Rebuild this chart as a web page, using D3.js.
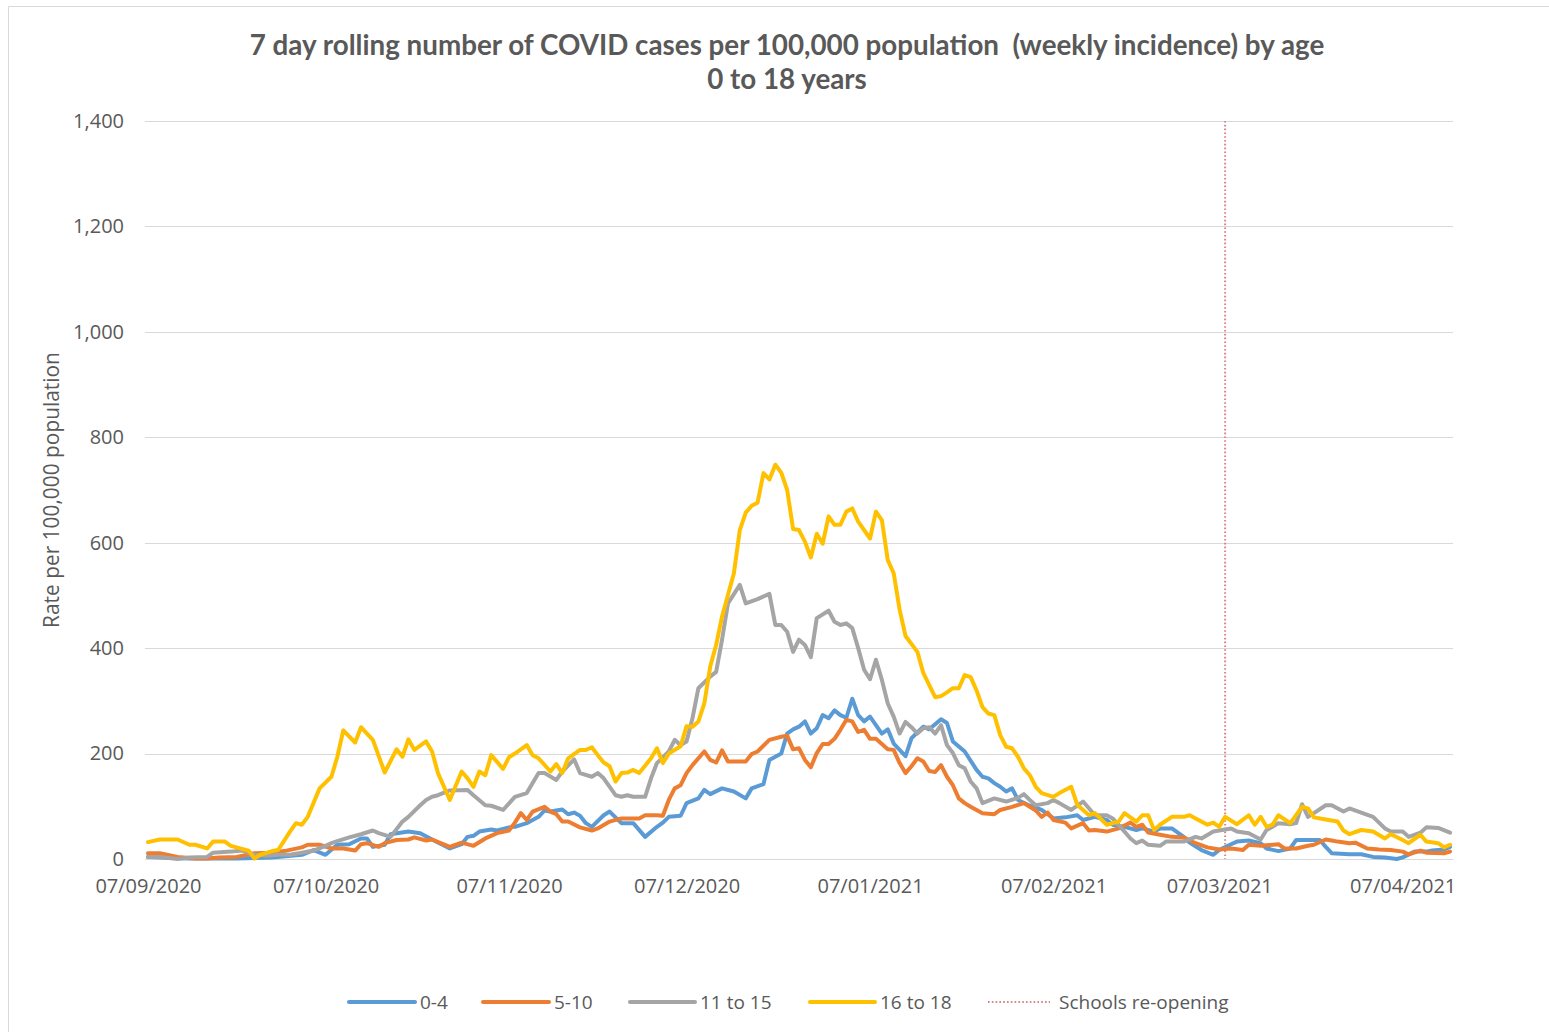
<!DOCTYPE html>
<html>
<head>
<meta charset="utf-8">
<script src="https://cdn.jsdelivr.net/npm/d3@7"></script>
<style>
  html, body { margin: 0; padding: 0; background: #ffffff; }
  svg { display: block; }
</style>
</head>
<body>
<svg id="chart" width="1549" height="1032"></svg>
<script>
// ---------------- DATA ----------------
const startDate = "2020-09-07";
const endDayOffset = 220;
const schoolsReopening = "2021-03-08";

const xTickLabels = ["07/09/2020","07/10/2020","07/11/2020","07/12/2020","07/01/2021","07/02/2021","07/03/2021","07/04/2021"];
const yTickValues = [0, 200, 400, 600, 800, 1000, 1200, 1400];

const seriesNames = ["0-4", "5-10", "11 to 15", "16 to 18"];

// days since 07/09/2020, and weekly incidence per 100,000
const days_0_4 = [0,7,15,21,26,28,30,32,34,36,37,38,40,41,44,46,48,51,53,54,55,56,58,59,61,62,64,66,67,68,70,71,72,73,74,75,77,78,80,82,84,86,87,88,90,91,93,94,95,97,99,101,102,104,105,107,108,109,110,111,112,113,114,115,116,117,118,119,120,121,122,124,125,126,128,129,131,132,134,135,136,138,140,141,142,143,144,145,146,147,149,151,153,155,157,158,160,162,163,165,167,168,170,171,173,175,176,178,180,181,183,184,186,188,189,191,193,194,196,198,199,200,203,205,207,209,211,212,214,216,217,219,220];
const values_0_4 = [4,1,1,3,8,17,8,27,28,39,39,23,27,47,52,49,37,20,28,42,44,52,56,54,60,61,68,80,92,90,94,85,88,82,68,61,83,90,68,68,42,61,69,80,82,106,115,131,123,134,128,115,134,142,188,200,238,246,251,261,238,248,273,267,282,273,268,304,273,261,270,238,246,219,195,229,251,246,265,258,223,204,169,156,153,144,137,128,134,112,101,93,77,79,83,74,80,74,65,61,55,58,52,58,58,42,31,17,8,17,28,33,35,30,20,15,20,36,36,36,23,11,9,9,4,3,0,3,14,14,16,18,23];

const days_5_10 = [0,2,5,8,10,12,15,18,21,23,26,27,29,31,33,35,36,37,39,40,42,44,45,47,48,51,53,55,57,59,61,62,63,64,65,67,68,69,70,71,73,75,76,78,80,83,84,86,87,88,89,90,91,92,94,95,96,97,98,101,102,103,105,107,108,109,110,111,112,113,114,115,116,117,118,119,120,121,122,123,124,125,126,127,128,129,130,131,132,133,134,135,136,137,138,139,141,143,144,146,148,150,151,152,153,155,156,158,159,160,162,164,166,167,168,169,171,173,175,177,179,181,183,185,186,188,191,192,194,196,197,199,200,201,203,204,206,208,210,212,213,215,216,219,220];
const values_5_10 = [11,11,4,1,1,3,4,11,12,15,22,27,27,20,20,16,28,30,23,30,36,37,41,35,37,23,31,25,39,49,54,69,87,74,90,99,90,85,71,71,60,54,58,71,77,77,83,83,82,112,134,140,163,178,204,188,183,206,185,185,199,204,226,232,234,208,210,188,174,201,218,218,228,245,264,261,241,245,228,228,218,208,207,182,163,176,191,185,167,165,178,156,140,115,106,99,87,85,93,99,106,92,80,88,74,69,58,68,54,55,52,58,69,61,65,50,46,42,41,30,22,18,20,17,27,25,28,20,20,25,27,37,35,33,30,31,20,18,17,14,9,16,12,11,14];

const days_11_15 = [0,2,5,7,10,11,14,16,18,20,22,24,26,28,30,31,32,34,36,38,39,41,43,44,46,47,48,49,51,54,55,57,58,60,62,64,66,67,69,70,72,73,75,76,77,79,80,81,82,84,85,86,88,89,90,91,92,93,95,96,97,98,100,101,103,105,106,107,108,109,110,111,112,113,115,116,117,118,119,120,121,122,123,124,125,126,127,128,129,130,131,132,133,134,135,136,137,138,139,140,141,143,145,147,148,149,150,152,153,154,156,158,160,162,163,165,166,167,168,169,171,172,175,177,178,180,183,184,186,188,189,190,191,193,194,195,196,197,199,200,202,203,205,207,209,210,212,213,215,216,218,220];
const values_11_15 = [4,4,0,3,4,12,14,16,8,6,8,8,12,16,25,30,34,41,47,54,49,42,71,80,102,112,118,121,130,131,121,102,101,93,118,125,163,163,150,166,189,163,156,163,153,121,118,121,118,118,153,182,204,226,216,223,267,324,346,355,416,485,520,485,493,503,444,444,431,393,416,406,383,457,471,450,444,447,438,400,359,341,378,340,295,270,238,260,250,238,248,250,238,254,216,201,178,172,147,134,106,115,109,116,123,112,102,106,112,106,93,109,83,83,77,52,39,30,35,27,25,33,33,42,39,52,58,52,49,37,55,61,68,66,68,104,80,87,102,102,90,96,88,80,58,52,52,42,50,60,59,50];

const days_16_18 = [0,2,5,7,8,10,11,13,14,17,18,19,21,22,24,25,26,27,29,31,32,33,35,36,37,38,40,42,43,44,45,47,48,49,51,53,54,55,56,57,58,60,61,62,64,65,66,68,69,70,71,73,74,75,76,77,78,79,80,81,82,83,85,86,87,88,90,91,92,93,94,95,96,97,99,100,101,102,103,104,105,106,107,108,109,110,111,112,113,114,115,116,117,118,119,120,122,123,124,125,126,127,128,130,131,133,134,135,136,137,138,139,140,141,142,143,144,145,146,147,148,149,150,151,153,154,156,157,159,160,162,164,165,167,168,169,170,171,173,175,176,179,180,181,182,184,186,187,188,189,190,191,193,195,196,197,199,201,202,203,205,207,209,210,212,213,215,216,218,219,220];
const values_16_18 = [32,37,37,27,27,20,33,33,25,16,1,8,15,17,52,68,65,80,134,156,194,244,221,250,238,226,164,208,194,227,207,223,204,163,112,166,153,137,166,159,197,171,193,200,216,197,191,166,180,163,191,207,207,212,197,183,176,147,163,164,169,163,191,210,182,200,214,252,251,261,295,365,406,460,542,624,657,670,676,732,720,748,733,700,626,624,602,572,617,598,650,634,634,659,665,640,608,659,643,567,542,473,423,393,353,307,309,316,324,324,349,345,320,288,276,273,235,213,210,194,172,159,137,125,118,125,137,103,83,87,65,71,87,71,83,83,55,65,80,80,83,65,69,61,80,66,83,65,80,61,65,83,68,99,96,79,75,71,54,47,55,52,39,47,36,30,46,33,30,22,27];

const seriesColors = ["#5B9BD5", "#ED7D31", "#A5A5A5", "#FFC000"];

// ---------------- LAYOUT ----------------
const svg = d3.select("#chart");
const plot = { left: 145, right: 1453, top: 121, bottom: 859 };
const textColor = "#595959";
const labelFont = "'Open Sans', 'Segoe UI', 'DejaVu Sans', sans-serif";

const parseISO = d3.utcParse("%Y-%m-%d");
const parseTick = d3.utcParse("%d/%m/%Y");
const start = parseISO(startDate);
const dayDate = d => d3.utcDay.offset(start, d);

const x = d3.scaleUtc()
  .domain([d3.utcHour.offset(start, -12), d3.utcHour.offset(dayDate(endDayOffset), 12)])
  .range([plot.left, plot.right]);
const y = d3.scaleLinear().domain([0, 1400]).range([plot.bottom, plot.top]);

// outer chart border (left & top visible)
svg.append("line").attr("x1", 8.5).attr("x2", 8.5).attr("y1", 6.5).attr("y2", 1032)
  .attr("stroke", "#d9d9d9").attr("stroke-width", 1);
svg.append("line").attr("x1", 8.5).attr("x2", 1549).attr("y1", 6.5).attr("y2", 6.5)
  .attr("stroke", "#d9d9d9").attr("stroke-width", 1);

// gridlines
const yAxisGrid = d3.axisLeft(y).tickValues(yTickValues)
  .tickSize(-(plot.right - plot.left)).tickFormat("");
const gGrid = svg.append("g").attr("transform", `translate(${plot.left},0)`).call(yAxisGrid);
gGrid.select(".domain").remove();
gGrid.selectAll(".tick line").attr("stroke", "#d9d9d9").attr("stroke-width", 1)
  .attr("shape-rendering", "crispEdges");

// y tick labels
const yAxis = d3.axisLeft(y).tickValues(yTickValues).tickSize(0).tickPadding(21)
  .tickFormat(d3.format(","));
const gY = svg.append("g").attr("transform", `translate(${plot.left},0)`).call(yAxis);
gY.select(".domain").remove();
gY.selectAll("text").attr("fill", textColor).attr("font-family", labelFont)
  .attr("font-size", 20);

// x axis
const xTickDates = xTickLabels.map(s => parseTick(s));
const xAxis = d3.axisBottom(x).tickValues(xTickDates).tickSize(0).tickPadding(20)
  .tickFormat((d, i) => xTickLabels[i]);
const gX = svg.append("g").attr("transform", `translate(0,${plot.bottom})`).call(xAxis);
gX.select(".domain").attr("stroke", "#d9d9d9").attr("stroke-width", 1);
gX.selectAll("text").attr("fill", textColor).attr("font-family", labelFont)
  .attr("font-size", 20);

// schools re-opening line
const sx = x(parseISO(schoolsReopening));
svg.append("line").attr("x1", sx).attr("x2", sx).attr("y1", plot.top).attr("y2", plot.bottom)
  .attr("stroke", "#DB8385").attr("stroke-width", 2).attr("stroke-dasharray", "1.6,2.2");

// series lines
const allDays = [days_0_4, days_5_10, days_11_15, days_16_18];
const allValues = [values_0_4, values_5_10, values_11_15, values_16_18];
const line = d3.line().x(d => x(dayDate(d[0]))).y(d => y(d[1]));
seriesNames.forEach((name, i) => {
  const pts = allDays[i].map((d, j) => [d, allValues[i][j]]);
  svg.append("path").datum(pts)
    .attr("fill", "none").attr("stroke", seriesColors[i]).attr("stroke-width", 4)
    .attr("stroke-linejoin", "round").attr("stroke-linecap", "round")
    .attr("d", line);
});

// title
const titleFont = "Lato, 'Open Sans', 'DejaVu Sans', sans-serif";
const t1 = svg.append("text").attr("x", 787).attr("y", 55).attr("text-anchor", "middle")
  .attr("font-family", titleFont).attr("font-weight", "bold").attr("font-size", 25)
  .attr("fill", textColor)
  .text("7 day rolling number of COVID cases per 100,000 population  (weekly incidence) by age")
  .style("white-space", "pre");
const w1 = t1.node().getComputedTextLength();
const titleSize = 25 * 1075 / w1;
t1.attr("font-size", titleSize);
svg.append("text").attr("x", 787).attr("y", 89).attr("text-anchor", "middle")
  .attr("font-family", titleFont).attr("font-weight", "bold").attr("font-size", titleSize)
  .attr("fill", textColor).text("0 to 18 years");

// y axis title
const yt = svg.append("text")
  .attr("transform", "translate(59,490) rotate(-90)")
  .attr("text-anchor", "middle").attr("font-family", labelFont).attr("font-size", 19)
  .attr("fill", textColor).text("Rate per 100,000 population");
const wy = yt.node().getComputedTextLength();
yt.attr("font-size", 19 * 276 / wy);

// legend
const legendItems = [
  { label: seriesNames[0], color: seriesColors[0], x1: 349, x2: 415, tx: 420, dotted: false },
  { label: seriesNames[1], color: seriesColors[1], x1: 483, x2: 549, tx: 554, dotted: false },
  { label: seriesNames[2], color: seriesColors[2], x1: 630, x2: 695, tx: 700, dotted: false },
  { label: seriesNames[3], color: seriesColors[3], x1: 810, x2: 875, tx: 880, dotted: false },
  { label: "Schools re-opening", color: "#DB8385", x1: 988, x2: 1050, tx: 1059, dotted: true }
];
const legY = 1002;
const gL = svg.append("g");
legendItems.forEach(it => {
  const ln = gL.append("line").attr("x1", it.x1).attr("x2", it.x2).attr("y1", legY).attr("y2", legY)
    .attr("stroke", it.color);
  if (it.dotted) {
    ln.attr("stroke-width", 2).attr("stroke-dasharray", "1.6,2.2");
  } else {
    ln.attr("stroke-width", 4).attr("stroke-linecap", "round");
  }
  gL.append("text").attr("x", it.tx).attr("y", legY).attr("dy", "0.35em")
    .attr("font-family", labelFont).attr("font-size", 19).attr("fill", textColor)
    .text(it.label);
});
</script>
</body>
</html>
